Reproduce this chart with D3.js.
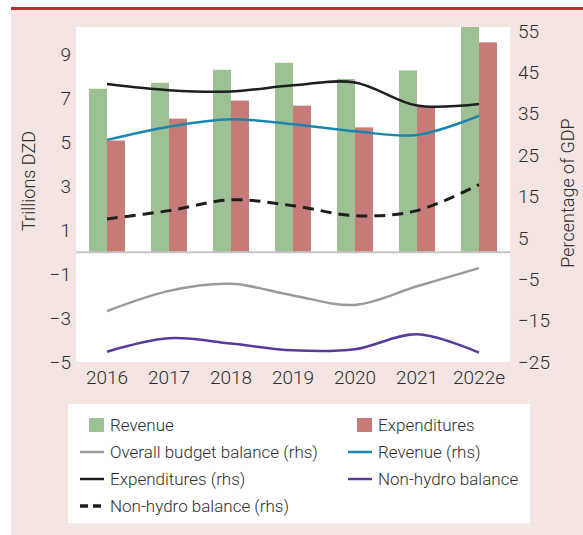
<!DOCTYPE html>
<html><head><meta charset="utf-8">
<script src="https://cdn.jsdelivr.net/npm/d3@7/dist/d3.min.js"></script>
<style>
body{margin:0;background:#fff;}
text{font-family:Roboto,"Liberation Sans",Arial,sans-serif;fill:#2e2e2e;font-weight:300;}
</style></head>
<body><svg id="c" width="583" height="535"></svg>
<script>
const years = ["2016","2017","2018","2019","2020","2021","2022e"];
const revenue = [7.44, 7.71, 8.30, 8.62, 7.89, 8.27, 10.3];
const expenditures = [5.08, 6.08, 6.90, 6.67, 5.68, 6.61, 9.55];
const overallBalanceRhs = [-12.7, -7.8, -6.1, -8.9, -11.2, -6.7, -2.3];
const revenueRhs = [28.7, 31.9, 33.7, 32.5, 30.8, 29.9, 34.5];
const expendituresRhs = [42.2, 40.7, 40.4, 41.9, 42.6, 37.0, 37.4];
const nonHydroBalance = [-4.53, -3.92, -4.16, -4.47, -4.42, -3.74, -4.57];
const nonHydroBalanceRhs = [9.6, 11.6, 14.2, 12.8, 10.4, 11.6, 17.9];
const leftTicks = [-5, -3, -1, 1, 3, 5, 7, 9];
const rightTicks = [-25, -15, -5, 5, 15, 25, 35, 45, 55];

const svg = d3.select("#c");
const W = 583, H = 535;
const P = {l: 76, r: 510, t: 27, b: 362};

// background
svg.append("rect").attr("x", 11).attr("y", 10).attr("width", W - 11).attr("height", H - 10).attr("fill", "#f4e4e2");
svg.append("rect").attr("x", 11).attr("y", 7).attr("width", W - 11).attr("height", 3).attr("fill", "#c62a2f");
svg.append("rect").attr("x", P.l).attr("y", P.t).attr("width", P.r - P.l).attr("height", P.b - P.t).attr("fill", "#fff");

const x = d3.scaleBand().domain(years).range([P.l, P.r]).padding(0);
const yL = d3.scaleLinear().domain([-5, 10.25]).range([P.b, P.t]);
const yR = d3.scaleLinear().domain([-25, 56]).range([P.b, P.t]);
const bw = x.bandwidth() * 0.29;

svg.append("clipPath").attr("id", "pc").append("rect")
  .attr("x", P.l).attr("y", P.t).attr("width", P.r - P.l).attr("height", P.b - P.t);
const g = svg.append("g").attr("clip-path", "url(#pc)");

const cx = d => x(d) + x.bandwidth() / 2;
g.selectAll(".rev").data(years).join("rect")
  .attr("x", d => cx(d) - bw).attr("width", bw)
  .attr("y", (d, i) => yL(revenue[i])).attr("height", (d, i) => yL(0) - yL(revenue[i]))
  .attr("fill", "#9dc095");
g.selectAll(".exp").data(years).join("rect")
  .attr("x", d => cx(d)).attr("width", bw)
  .attr("y", (d, i) => yL(expenditures[i])).attr("height", (d, i) => yL(0) - yL(expenditures[i]))
  .attr("fill", "#c77b78");

g.append("line").attr("x1", P.l).attr("x2", P.r).attr("y1", yL(0)).attr("y2", yL(0))
  .attr("stroke", "#c4c4c4").attr("stroke-width", 2);

function drawLine(vals, scale, color, dash, w) {
  const line = d3.line().x((d, i) => cx(years[i])).y(d => scale(d)).curve(d3.curveCardinal.tension(0));
  g.append("path").attr("d", line(vals)).attr("fill", "none").attr("stroke", color)
    .attr("stroke-width", w || 2.5).attr("stroke-dasharray", dash || null);
}
drawLine(overallBalanceRhs, yR, "#9a9a9a");
drawLine(revenueRhs, yR, "#1a86ad");
drawLine(expendituresRhs, yR, "#1e1e1e");
drawLine(nonHydroBalance, yL, "#583a9c");
drawLine(nonHydroBalanceRhs, yR, "#1e1e1e", "11,7", 3);

// axes
const axL = svg.append("g").attr("transform", `translate(${P.l},0)`)
  .call(d3.axisLeft(yL).tickValues(leftTicks).tickSize(0).tickPadding(5).tickFormat(d => d < 0 ? "\u2212" + Math.abs(d) : d));
const axR = svg.append("g").attr("transform", `translate(${P.r},0)`)
  .call(d3.axisRight(yR).tickValues(rightTicks).tickSize(0).tickPadding(8).tickFormat(d => d < 0 ? "\u2212" + Math.abs(d) : d));
const axB = svg.append("g").attr("transform", `translate(0,${P.b})`)
  .call(d3.axisBottom(x).tickSize(0).tickPadding(9));
[axL, axR, axB].forEach(a => {
  a.select(".domain").remove();
  a.selectAll("text").attr("font-size", 19).attr("fill", "#2e2e2e")
    .attr("font-family", "Roboto,'Liberation Sans',Arial,sans-serif");
});

svg.append("text").attr("transform", "translate(30,181) rotate(-90)").attr("text-anchor", "middle")
  .attr("dominant-baseline", "middle").attr("font-size", 18).text("Trillions DZD");
svg.append("text").attr("transform", "translate(569,193) rotate(-90)").attr("text-anchor", "middle")
  .attr("dominant-baseline", "middle").attr("font-size", 18).text("Percentage of GDP");

// legend
svg.append("rect").attr("x", 68).attr("y", 404).attr("width", 462).attr("height", 119).attr("fill", "#fff");
const legend = [
  {label: "Revenue", type: "rect", color: "#9dc095", col: 0, row: 0},
  {label: "Expenditures", type: "rect", color: "#c77b78", col: 1, row: 0},
  {label: "Overall budget balance (rhs)", type: "line", color: "#9a9a9a", col: 0, row: 1},
  {label: "Revenue (rhs)", type: "line", color: "#1a86ad", col: 1, row: 1},
  {label: "Expenditures (rhs)", type: "line", color: "#1e1e1e", col: 0, row: 2},
  {label: "Non-hydro balance", type: "line", color: "#583a9c", col: 1, row: 2},
  {label: "Non-hydro balance (rhs)", type: "dash", color: "#1e1e1e", col: 0, row: 3}
];
const colX = [80, 348], rowY = [425, 452, 479, 506];
legend.forEach(d => {
  const lx = colX[d.col], ly = rowY[d.row];
  if (d.type === "rect") {
    svg.append("rect").attr("x", lx + 9).attr("y", ly - 7).attr("width", 15).attr("height", 14).attr("fill", d.color);
  } else {
    svg.append("line").attr("x1", lx).attr("x2", lx + 24).attr("y1", ly).attr("y2", ly)
      .attr("stroke", d.color).attr("stroke-width", d.type === "dash" ? 3.5 : 2.5)
      .attr("stroke-dasharray", d.type === "dash" ? "8,5" : null);
  }
  svg.append("text").attr("x", lx + 30).attr("y", ly).attr("dominant-baseline", "central")
    .attr("font-size", 17).text(d.label);
});
</script></body></html>
